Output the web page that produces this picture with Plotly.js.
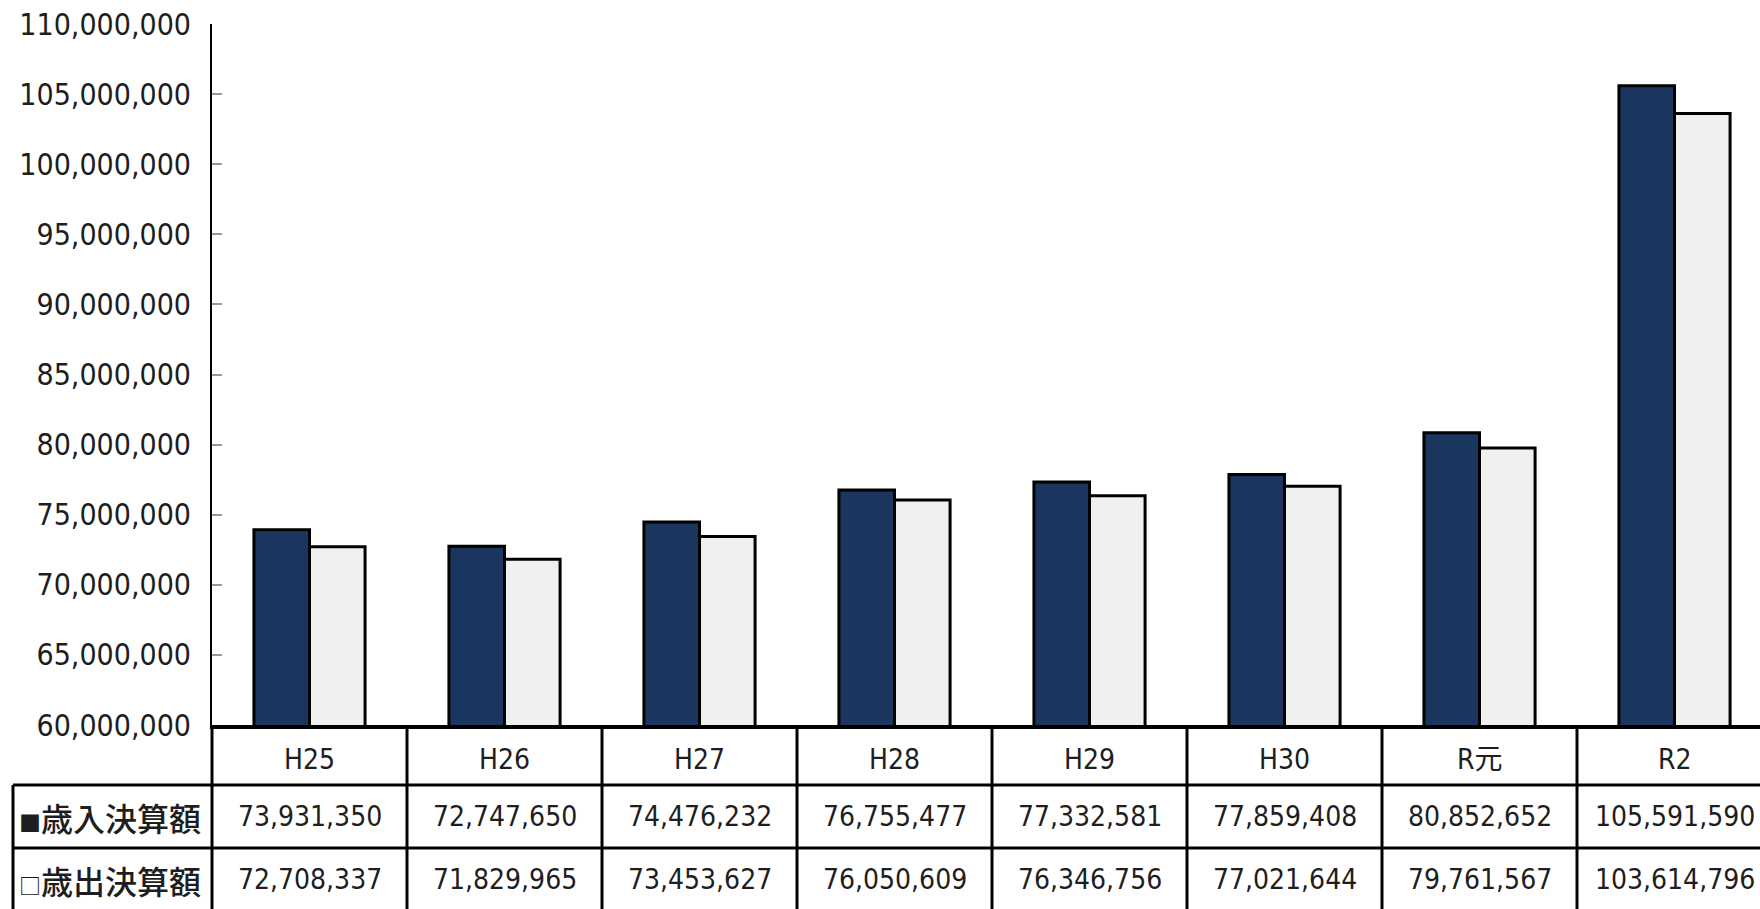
<!DOCTYPE html>
<html>
<head>
<meta charset="utf-8">
<script src="https://cdn.plot.ly/plotly-3.0.1.min.js"></script>
<style>
html,body{margin:0;padding:0;background:#fff;overflow:hidden;}
#chart{width:1760px;height:909px;}
</style>
</head>
<body>
<div id="chart"></div>
<script>
// ---- data ----
const categories = ['H25','H26','H27','H28','H29','H30','R元','R2'];
const revenue = [73931350,72747650,74476232,76755477,77332581,77859408,80852652,105591590];
const expenditure = [72708337,71829965,73453627,76050609,76346756,77021644,79761567,103614796];
const seriesLabels = ['歳入決算額','歳出決算額'];
const seriesMarks = ['■','□'];
const yMin = 60000000, yMax = 110000000, yStep = 5000000;

// ---- layout geometry (pixels) ----
const W = 1760, H = 909;
const plotLeft = 212, plotTop = 24, plotBottom = 725;
const colWidth = 195;
const rowLines = [785, 848, 911];   // bottoms of header, row1, row2
const labelLeft = 13;
const plotW = W - plotLeft, plotH = plotBottom - plotTop;
const xr0 = -0.5, xr1 = -0.5 + plotW / colWidth;

const px = p => (p - plotLeft) / plotW;          // pixel x -> paper
const py = p => (plotBottom - p) / plotH;        // pixel y -> paper
const catX = i => (i - xr0) / (xr1 - xr0);       // category coord -> paper

const fmt = v => v.toLocaleString('en-US');
const series = [revenue, expenditure];

const traces = [
  {type:'bar', x:categories, y:revenue, name:seriesLabels[0],
   marker:{color:'#1a365f', line:{color:'#000', width:3}}},
  {type:'bar', x:categories, y:expenditure, name:seriesLabels[1],
   marker:{color:'#f0f0f0', line:{color:'#000', width:3}}}
];

const shapes = [];
const lineStyle = {color:'#000', width:3};
for (let i = 0; i <= categories.length; i++) {
  shapes.push({type:'line', xref:'paper', yref:'paper',
    x0:catX(i-0.5), x1:catX(i-0.5), y0:0, y1:py(rowLines[2]), line:lineStyle});
}
[rowLines[0], rowLines[1]].forEach(r => {
  shapes.push({type:'line', xref:'paper', yref:'paper',
    x0:px(labelLeft), x1:1.02, y0:py(r), y1:py(r), line:lineStyle});
});
shapes.push({type:'line', xref:'paper', yref:'paper',
  x0:px(labelLeft), x1:px(labelLeft), y0:py(rowLines[0]), y1:py(rowLines[2]), line:lineStyle});

const annotations = [];
const numFamily = '"DejaVu Sans Condensed", "Liberation Sans Narrow", "Noto Sans CJK JP", sans-serif';
const cellFont = {family:numFamily, size:28, color:'#1e1e1e'};
categories.forEach((c, i) => {
  annotations.push({xref:'x', yref:'paper', x:i, y:py((plotBottom + rowLines[0]) / 2 + 4),
    text:c, showarrow:false, font:cellFont, xanchor:'center', yanchor:'middle'});
});
const rowTops = [rowLines[0], rowLines[1]];
series.forEach((vals, r) => {
  const yc = py((rowTops[r] + rowLines[r+1]) / 2);
  vals.forEach((v, i) => {
    annotations.push({xref:'x', yref:'paper', x:i, y:yc, text:fmt(v), showarrow:false,
      font:cellFont, xanchor:'center', yanchor:'middle'});
  });
  annotations.push({xref:'paper', yref:'paper', x:px(labelLeft + 4), y:yc,
    text:'<span style="font-size:22px">' + seriesMarks[r] + '</span>' + seriesLabels[r],
    showarrow:false, xanchor:'left', yanchor:'middle',
    font:{family:'"Noto Sans CJK JP", sans-serif', size:32, color:'#1e1e1e', weight:500}});
});

const layout = {
  width:W, height:H,
  margin:{l:plotLeft, r:0, t:plotTop, b:H - plotBottom, pad:0},
  paper_bgcolor:'#fff', plot_bgcolor:'#fff',
  showlegend:false, hovermode:false,
  barmode:'group', bargap:0.43, bargroupgap:0,
  xaxis:{type:'category', range:[xr0, xr1], showticklabels:false, ticks:'',
    showgrid:false, zeroline:false, showline:true, linecolor:'#000', linewidth:4},
  yaxis:{range:[yMin, yMax], tick0:yMin, dtick:yStep, tickformat:',d',
    ticks:'inside', ticklen:10, tickwidth:2, tickcolor:'#999',
    showgrid:false, zeroline:false, showline:true, linecolor:'#000', linewidth:2,
    ticklabelstandoff:13,
    tickfont:{family:numFamily, size:30, color:'#1e1e1e'}},
  shapes:shapes, annotations:annotations
};

Plotly.newPlot('chart', traces, layout, {displayModeBar:false, staticPlot:true});
</script>
</body>
</html>
